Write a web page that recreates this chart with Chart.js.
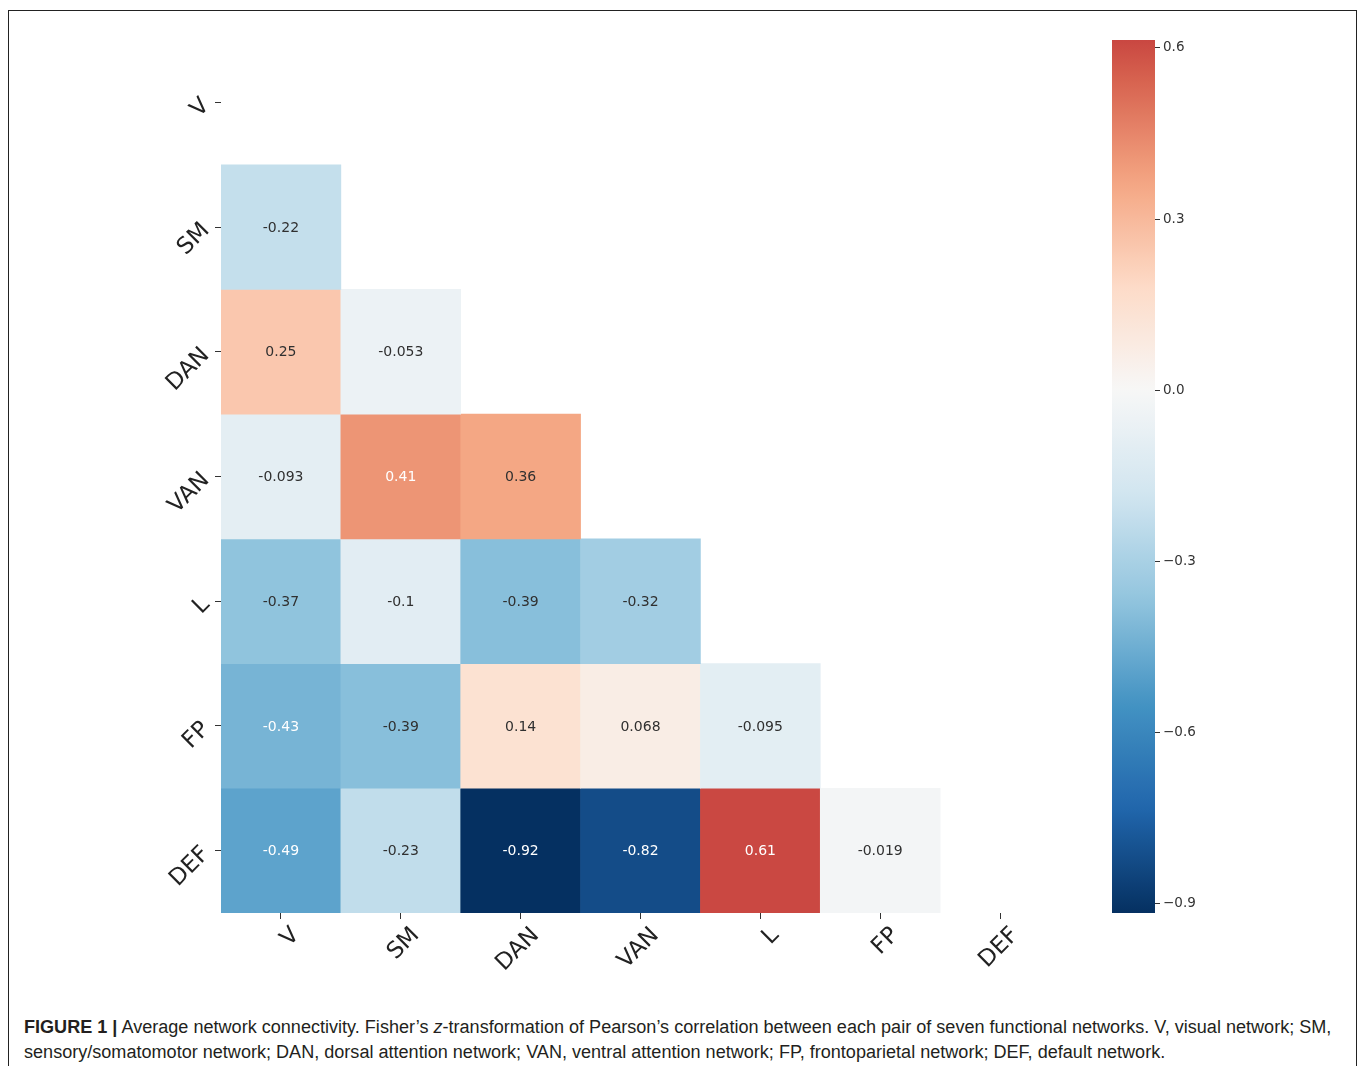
<!DOCTYPE html>
<html>
<head>
<meta charset="utf-8">
<script src="https://cdn.jsdelivr.net/npm/chart.js@4.4.0/dist/chart.umd.min.js"></script>
<style>
  body { margin: 0; background: #fff; width: 1360px; height: 1066px; overflow: hidden; position: relative; }
  #frame { position: absolute; left: 8px; top: 10px; width: 1347px; height: 1100px; border: 1px solid #222; border-bottom: none; }
  #heat { position: absolute; left: 0; top: 0; }
  #cbar { position: absolute; left: 1100px; top: 0; }
  .cap { position: absolute; left: 24px; font-family: 'Liberation Sans', Arial, sans-serif; font-size: 18px; color: #231f20; white-space: nowrap; transform-origin: 0 0; }
</style>
</head>
<body>
<div id="frame"></div>
<canvas id="heat" width="1090" height="1000"></canvas>
<canvas id="cbar" width="160" height="1000"></canvas>
<div class="cap" style="top:1017px"><b>FIGURE 1 |</b> Average network connectivity. Fisher’s <i>z</i>-transformation of Pearson’s correlation between each pair of seven functional networks. V, visual network; SM,</div>
<div class="cap" style="top:1042px">sensory/somatomotor network; DAN, dorsal attention network; VAN, ventral attention network; FP, frontoparietal network; DEF, default network.</div>
<script>
// networks, same order on both axes
const networks = ['V', 'SM', 'DAN', 'VAN', 'L', 'FP', 'DEF'];

// lower triangle, one array per row (values against V, SM, DAN, ...)
const rowSM = [-0.22];
const rowDAN = [0.25, -0.053];
const rowVAN = [-0.093, 0.41, 0.36];
const rowL = [-0.37, -0.1, -0.39, -0.32];
const rowFP = [-0.43, -0.39, 0.14, 0.068, -0.095];
const rowDEF = [-0.49, -0.23, -0.92, -0.82, 0.61, -0.019];
const rows = [[], rowSM, rowDAN, rowVAN, rowL, rowFP, rowDEF];

// colour bar
const colorMin = -0.916;
const colorMax = 0.614;
const colorTicks = [-0.9, -0.6, -0.3, 0.0, 0.3, 0.6];

// RdBu reversed (blue -> red)
const rdbu = ['#053061', '#2166ac', '#4393c3', '#92c5de', '#d1e5f0', '#f7f7f7',
              '#fddbc7', '#f4a582', '#d6604d', '#b2182b', '#67001f'];

function hexRgb(h) {
  return [parseInt(h.slice(1, 3), 16), parseInt(h.slice(3, 5), 16), parseInt(h.slice(5, 7), 16)];
}

// centred at 0, like seaborn's center=0
function cmap(v) {
  const span = Math.max(colorMax, -colorMin);
  let t = (v + span) / (2 * span);
  t = Math.min(1, Math.max(0, t)) * 10;
  const i = Math.min(9, Math.floor(t));
  const f = t - i;
  const a = hexRgb(rdbu[i]), b = hexRgb(rdbu[i + 1]);
  return a.map((x, k) => Math.round(x + (b[k] - x) * f));
}

function cmapCss(v) {
  const c = cmap(v);
  return `rgb(${c[0]},${c[1]},${c[2]})`;
}

function textColor(v) {
  const lin = cmap(v).map(x => {
    x /= 255;
    return x <= 0.03928 ? x / 12.92 : Math.pow((x + 0.055) / 1.055, 2.4);
  });
  const lum = 0.2126 * lin[0] + 0.7152 * lin[1] + 0.0722 * lin[2];
  return lum > 0.44 ? '#303030' : '#ffffff';
}

// numbers written in the cells
const cellText = {
  id: 'cellText',
  afterDatasetsDraw(chart) {
    const ctx = chart.ctx;
    ctx.save();
    ctx.font = '14px "DejaVu Sans"';
    ctx.textAlign = 'center';
    ctx.textBaseline = 'middle';
    chart.data.datasets.forEach((ds, d) => {
      chart.getDatasetMeta(d).data.forEach((bar, c) => {
        const v = ds.values[c];
        if (v === undefined) return;
        ctx.fillStyle = textColor(v);
        ctx.fillText(String(v), bar.x, (bar.y + bar.base) / 2 + 1);
      });
    });
    ctx.restore();
  }
};

const tickFont = { family: 'DejaVu Sans', size: 23 };

const datasets = rows.map((vals, r) => ({
  data: networks.map((_, c) => c < vals.length ? [r, r + 1] : null),
  values: vals,
  backgroundColor: networks.map((_, c) => c < vals.length ? cmapCss(vals[c]) : 'rgba(0,0,0,0)'),
  borderWidth: 0,
  barPercentage: 1,
  categoryPercentage: 1,
  grouped: false
})).filter(ds => ds.values.length > 0);

new Chart(document.getElementById('heat'), {
  type: 'bar',
  data: { labels: networks, datasets },
  options: {
    responsive: false,
    animation: false,
    layout: { padding: { top: 40, right: 30, left: 0, bottom: 0 } },
    plugins: { legend: { display: false }, tooltip: { enabled: false } },
    scales: {
      x: {
        type: 'category',
        offset: true,
        border: { display: false },
        grid: { offset: false, drawOnChartArea: false, drawTicks: true, tickLength: 6, color: '#333' },
        ticks: { minRotation: 45, maxRotation: 45, labelOffset: 15, padding: 3, color: '#222', font: tickFont },
        afterFit: s => { s.height = 87; }
      },
      y: {
        type: 'linear',
        reverse: true,
        min: 0,
        max: 7,
        border: { display: false },
        grid: { drawOnChartArea: false, drawTicks: true, tickLength: 6, color: '#333' },
        afterBuildTicks: s => { s.ticks = networks.map((_, i) => ({ value: i + 0.5 })); },
        ticks: { minRotation: 45, maxRotation: 45, padding: 9, color: '#222', font: tickFont,
                 callback: (v, i) => networks[i] },
        afterFit: s => { s.width = 221; }
      }
    }
  },
  plugins: [cellText]
});

function colorbarFill(context) {
  const chart = context.chart;
  if (!chart.chartArea) return '#ccc';
  const y = chart.scales.y;
  const y0 = y.getPixelForValue(colorMin);
  const y1 = y.getPixelForValue(colorMax);
  const g = chart.ctx.createLinearGradient(0, y0, 0, y1);
  for (let k = 0; k <= 60; k++) {
    g.addColorStop(k / 60, cmapCss(colorMin + (colorMax - colorMin) * k / 60));
  }
  return g;
}

new Chart(document.getElementById('cbar'), {
  type: 'bar',
  data: {
    labels: [''],
    datasets: [{ data: [[colorMin, colorMax]], backgroundColor: colorbarFill, borderWidth: 0,
                 barPercentage: 1, categoryPercentage: 1 }]
  },
  options: {
    responsive: false,
    animation: false,
    layout: { padding: { top: 40, left: 12, bottom: 87, right: 0 } },
    plugins: { legend: { display: false }, tooltip: { enabled: false } },
    scales: {
      x: { display: false },
      y: {
        position: 'right',
        min: colorMin,
        max: colorMax,
        border: { display: false },
        grid: { drawOnChartArea: false, tickLength: 5, color: '#333' },
        afterBuildTicks: s => { s.ticks = colorTicks.map(v => ({ value: v })); },
        ticks: { padding: 3, color: '#333', font: { family: 'DejaVu Sans', size: 13.5 },
                 callback: v => (v < 0 ? '\u2212' : '') + Math.abs(v).toFixed(1) },
        afterFit: s => { s.width = 105; }
      }
    }
  }
});

// squeeze the caption to the width of the printed one
const caps = document.querySelectorAll('.cap');
const k = 1307 / caps[0].offsetWidth;
caps.forEach(c => { c.style.transform = `scaleX(${k})`; });
</script>
</body>
</html>
